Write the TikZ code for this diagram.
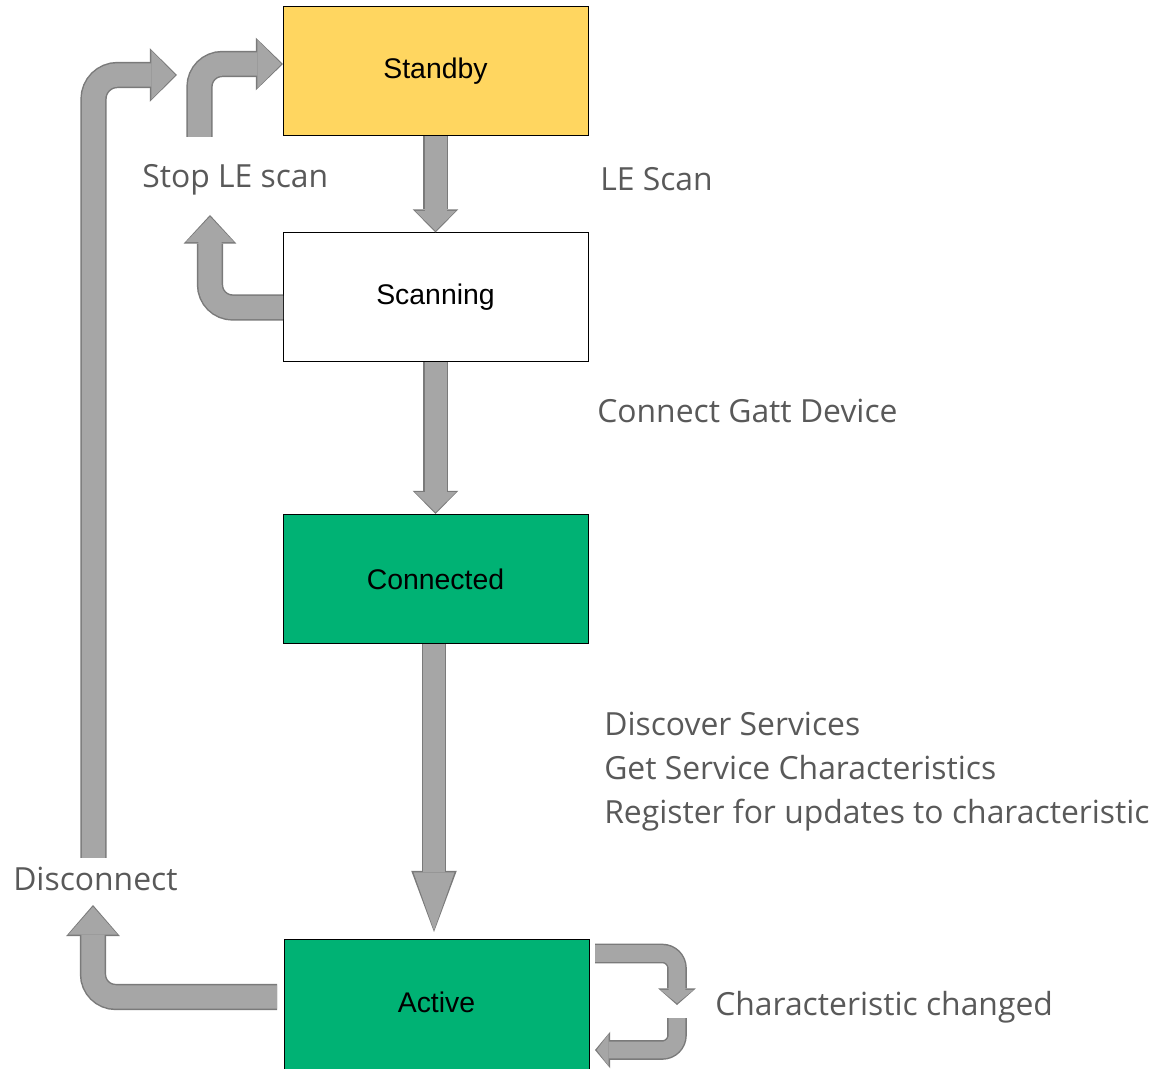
\documentclass[tikz,border=0pt]{standalone}
\usepackage{fontspec}
\setmainfont{Liberation Sans}
\newfontfamily\notefont{Open Sans}
\usetikzlibrary{arrows.meta,positioning}
\definecolor{standbyyellow}{HTML}{FFD660}
\definecolor{linkgreen}{HTML}{00B274}
\definecolor{arrowgray}{HTML}{A6A6A6}
\definecolor{arrowedge}{HTML}{7A7A7A}
\definecolor{notegray}{HTML}{595959}
\tikzstyle{state}=[draw=black,line width=.75pt,minimum width=228.75pt,
  minimum height=96.75pt,inner sep=0pt,font=\fontsize{21.3}{25}\selectfont]
\tikzstyle{note}=[anchor=base west,inner sep=0pt,text=notegray,
  font=\notefont\fontsize{23.9}{33}\selectfont]
\tikzset{blk/.style args={#1/#2/#3}{draw=arrowgray,line width=#1,
    shorten >=1.3pt,-{Triangle[width=#2,length=#3,line width=0pt]},
    preaction={draw=arrowedge,line width=#1+2.2pt,shorten >=0pt,
      -{Triangle[width=#2+3.4pt,length=#3+2.4pt,line width=0pt]}}}}

\begin{document}
\begin{tikzpicture}[x=.75pt,y=-.75pt,node distance=169.5pt,on grid]
  \useasboundingbox (0,0) rectangle (1158,1069);
  \clip (0,0) rectangle (1158,1069);

  \node[state,fill=standbyyellow] (standby) at (435.5,71.5) {Standby};
  \node[state,fill=white,below=of standby] (scanning) {Scanning};
  \node[state,fill=linkgreen,below=211.1pt of scanning] (connected) {Connected};
  \node[state,fill=linkgreen,minimum height=100pt,text depth=6pt,
    right=.75pt of connected,yshift=-320.5pt] (active) {Active};

  \node[note] (stoplbl) at (142,188) {Stop LE scan};
  \node[note] (scanlbl) at (600,191) {LE Scan};
  \node[note] (gattlbl) at (597,423) {Connect Gatt Device};
  \node[note,align=left,anchor=north west] (discovlbl) at (604,712)
    {Discover Services\\Get Service Characteristics\\Register for updates to characteristic};
  \node[note] (disclbl) at (13,890) {Disconnect};
  \node[note] (chglbl) at (715,1015) {Characteristic changed};

  % free ends of the bent arrows
  \coordinate (stopfrom) at (199.5,137);
  \coordinate (stopto) at (283,64);
  \coordinate (scanfrom) at (283,307.5);
  \coordinate (scanto) at (210,215);
  \coordinate (discfrom) at (277,997);
  \coordinate (discup) at (93,905);
  \coordinate (backfrom) at (93.5,858);
  \coordinate (backto) at (177,75);
  \coordinate (chgfrom) at (595,953.5);
  \coordinate (chgmid) at (677,1005);
  \coordinate (chgback) at (677,1018);
  \coordinate (chgto) at (595,1050);
  \coordinate (activetop) at (434,932);

  \draw[blk=16.5pt/30.75pt/15pt] (standby) -- (scanning);
  \draw[blk=16.5pt/30.75pt/15pt] (scanning) -- (connected);
  \draw[blk=16.5pt/30.75pt/43.5pt] (connected.south -| activetop) -- (activetop);

  \draw[blk=17.5pt/36pt/18pt,rounded corners=17pt] (stopfrom) |- (stopto);
  \draw[blk=17.5pt/36pt/19pt,rounded corners=17pt] (scanfrom) -| (scanto);
  \draw[blk=17.5pt/37pt/21pt,rounded corners=17pt] (discfrom) -| (discup);
  \draw[blk=17.5pt/36.75pt/18pt,rounded corners=18pt] (backfrom) |- (backto);

  \draw[blk=12.5pt/24.75pt/10pt,rounded corners=11pt] (chgfrom) -| (chgmid);
  \draw[blk=12.5pt/24pt/9pt,rounded corners=11pt] (chgback) |- (chgto);
\end{tikzpicture}
\end{document}
